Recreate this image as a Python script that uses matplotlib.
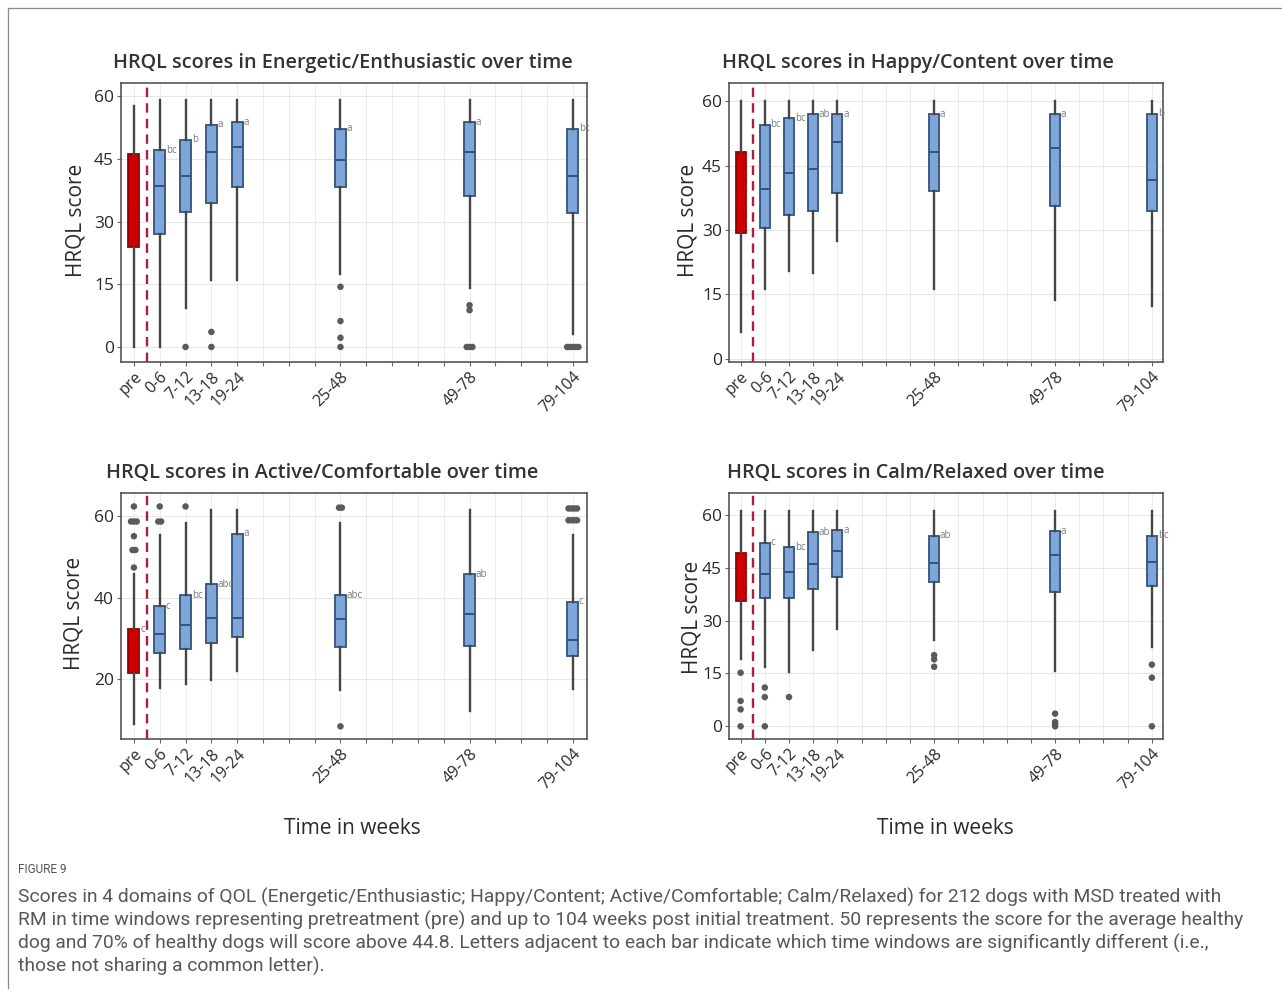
import matplotlib
matplotlib.use('Agg')
import matplotlib.pyplot as plt
from matplotlib.lines import Line2D
from collections import Counter

# ---------------- data ----------------
categories = ['pre', '0-6', '7-12', '13-18', '19-24', '25-48', '49-78', '79-104']
week_upper = [0, 6, 12, 18, 24, 48, 78, 104]   # upper week of each time window

titles = ['HRQL scores in Energetic/Enthusiastic over time',
          'HRQL scores in Happy/Content over time',
          'HRQL scores in Active/Comfortable over time',
          'HRQL scores in Calm/Relaxed over time']

# Energetic / Enthusiastic
ene_low = [0, 0, 9.4, 16, 16, 17.4, 14.2, 3.2]
ene_q1 = [23.9, 27.1, 32.2, 34.4, 38.3, 38.4, 36.2, 32.0]
ene_med = [35.0, 38.6, 41.0, 46.6, 47.8, 44.7, 46.6, 41.0]
ene_q3 = [46.2, 47.1, 49.6, 53.2, 53.8, 52.2, 53.8, 52.2]
ene_high = [57.8, 59.2, 59.2, 59.2, 59.2, 59.2, 59.2, 59.2]
ene_out = [[], [], [0], [3.6, 0], [], [14.4, 6.2, 2.2, 0], [10, 8.8, 0, 0, 0], [0, 0, 0, 0, 0]]
ene_letters = ['', 'bc', 'b', 'a', 'a', 'a', 'a', 'bc']

# Happy / Content
hap_low = [6.1, 16.3, 20.4, 19.9, 27.5, 16.3, 13.7, 12.3]
hap_q1 = [29.4, 30.4, 33.5, 34.5, 38.6, 39.0, 35.5, 34.4]
hap_med = [37.0, 39.6, 43.2, 44.3, 50.6, 48.1, 49.2, 41.6]
hap_q3 = [48.1, 54.5, 56.1, 57.0, 57.0, 57.0, 57.0, 57.1]
hap_high = [60, 60, 60, 60, 60, 60, 60, 60]
hap_out = [[], [], [], [], [], [], [], []]
hap_letters = ['', 'bc', 'bc', 'ab', 'a', 'a', 'a', 'b']

# Active / Comfortable
act_low = [8.9, 17.7, 18.9, 19.8, 22.0, 17.3, 12.1, 17.5]
act_q1 = [21.6, 26.3, 27.3, 28.9, 30.4, 27.9, 28.1, 25.8]
act_med = [26.0, 31.2, 33.3, 34.9, 34.9, 34.7, 35.9, 29.6]
act_q3 = [32.2, 37.9, 40.6, 43.3, 55.7, 40.6, 45.7, 39.0]
act_high = [45.7, 55.3, 58.4, 61.5, 61.5, 58.4, 61.5, 55.3]
act_out = [[62.4, 58.7, 58.7, 58.7, 55.1, 51.7, 51.7, 47.4],
           [62.4, 58.7, 58.7], [62.4], [], [],
           [62.1, 62.1, 8.4], [],
           [61.9, 61.9, 61.9, 61.9, 59.0, 59.0, 59.0, 59.0]]
act_letters = ['c', 'c', 'bc', 'abc', 'a', 'abc', 'ab', 'c']

# Calm / Relaxed
calm_low = [19.2, 16.9, 15.4, 21.6, 27.5, 24.6, 15.6, 22.4]
calm_q1 = [35.6, 36.3, 36.3, 38.9, 42.3, 41.0, 38.0, 39.9]
calm_med = [43.0, 43.1, 43.7, 46.1, 49.8, 46.3, 48.6, 46.7]
calm_q3 = [49.1, 52.1, 50.8, 55.1, 55.7, 54.0, 55.4, 54.0]
calm_high = [61.2, 61.2, 61.2, 61.2, 61.2, 61.2, 61.2, 61.2]
calm_out = [[15.2, 7.2, 4.8, 0], [11, 8.3, 0], [8.3], [], [],
            [20.2, 19.0, 16.9], [3.6, 1.2, 0.6, 0], [17.5, 13.8, 0]]
calm_letters = ['', 'c', 'bc', 'ab', 'a', 'ab', 'a', 'bc']

yticks_list = [[0, 15, 30, 45, 60], [0, 15, 30, 45, 60], [20, 40, 60], [0, 15, 30, 45, 60]]

caption_head = 'FIGURE 9'
caption_lines = [
    'Scores in 4 domains of QOL (Energetic/Enthusiastic; Happy/Content; Active/Comfortable; Calm/Relaxed) for 212 dogs with MSD treated with',
    'RM in time windows representing pretreatment (pre) and up to 104 weeks post initial treatment. 50 represents the score for the average healthy',
    'dog and 70% of healthy dogs will score above 44.8. Letters adjacent to each bar indicate which time windows are significantly different (i.e.,',
    'those not sharing a common letter).',
]

panels = [
    (ene_low, ene_q1, ene_med, ene_q3, ene_high, ene_out, ene_letters),
    (hap_low, hap_q1, hap_med, hap_q3, hap_high, hap_out, hap_letters),
    (act_low, act_q1, act_med, act_q3, act_high, act_out, act_letters),
    (calm_low, calm_q1, calm_med, calm_q3, calm_high, calm_out, calm_letters),
]

# ---------------- layout ----------------
W, H = 1282, 997
fig = plt.figure(figsize=(W / 100, H / 100), dpi=100)
plt.rcParams['font.family'] = ['Open Sans', 'DejaVu Sans']

def px_rect(l, t, r, b):
    return [l / W, 1 - b / H, (r - l) / W, (b - t) / H]

axes_px = [(121, 83, 587, 362), (729, 83, 1163, 362),
           (121, 493, 587, 739), (729, 493, 1163, 739)]
ylims = [(-3.6, 63.2), (-0.8, 64.3), (5.3, 65.7), (-3.6, 66.2)]
xlims = [(-0.5, 17.55), (-0.48, 17.46), (-0.5, 17.55), (-0.48, 17.46)]
title_pos = [(343, 63), (918, 63), (322, 473), (916, 473)]
ylabel_pos = [(76, 220), (688, 220), (74, 613), (692, 617)]
xlabel_pos = [None, None, (352, 828), (945, 828)]

positions = [round(w / 6) for w in week_upper]
n_slots = max(positions)

blue_fill = '#7fa6d8'
blue_edge = '#34527d'
red_fill = '#cc0000'
red_edge = '#990000'
whisk_col = '#454545'
text_col = '#2a2a2a'

for i, (low, q1, med, q3, high, outl, letters) in enumerate(panels):
    ax = fig.add_axes(px_rect(*axes_px[i]))
    stats = []
    for k in range(len(categories)):
        stats.append(dict(whislo=low[k], q1=q1[k], med=med[k], q3=q3[k],
                          whishi=high[k], fliers=[], label=categories[k]))
    bp = ax.bxp(stats, positions=positions, widths=0.42, patch_artist=True,
                showcaps=False, showfliers=False,
                boxprops=dict(facecolor=blue_fill, edgecolor=blue_edge, linewidth=1.3),
                medianprops=dict(color=blue_edge, linewidth=1.4),
                whiskerprops=dict(color=whisk_col, linewidth=1.7), zorder=3)
    bp['boxes'][0].set_facecolor(red_fill)
    bp['boxes'][0].set_edgecolor(red_edge)
    bp['medians'][0].set_color('#c20000')

    # outliers (duplicates placed side by side)
    for k, vals in enumerate(outl):
        cnt = Counter(vals)
        for v, c in cnt.items():
            for j in range(c):
                off = (j - (c - 1) / 2) * 0.11
                ax.scatter(positions[k] + off, v, s=22, color='#5a5a5a',
                           edgecolors='none', zorder=4)

    # significance letters
    for k, let in enumerate(letters):
        if let:
            ax.text(positions[k] + 0.24, q3[k], let, fontsize=7, color='#7a7a7a',
                    ha='left', va='center', zorder=5)

    ax.axvline(0.5, color='#b01c3c', linestyle=(0, (4, 2.6)), linewidth=1.7, zorder=2)

    ax.set_xlim(*xlims[i])
    ax.set_ylim(*ylims[i])
    ax.set_xticks(positions)
    ax.set_xticklabels(categories, rotation=45, ha='right', rotation_mode='anchor',
                       fontsize=11.5, color=text_col)
    ax.set_xticks([s for s in range(n_slots + 1) if s not in positions], minor=True)
    ax.set_yticks(yticks_list[i])
    ax.set_yticklabels([str(t) for t in yticks_list[i]], fontsize=12.5, color=text_col)
    ax.tick_params(axis='both', which='both', length=3, width=0.8, color='#666666', pad=2)
    ax.grid(True, axis='x', which='both', color='#ececec', linewidth=0.7, zorder=0)
    ax.grid(True, axis='y', which='major', color='#e6e6e6', linewidth=0.8, zorder=0)
    ax.set_axisbelow(True)
    for sp in ax.spines.values():
        sp.set_color('#555555')
        sp.set_linewidth(1.2)

    tx, ty = title_pos[i]
    fig.text(tx / W, 1 - ty / H, titles[i], fontsize=14.3, color='#333333',
             fontweight='semibold', ha='center', va='center')
    lx, ly = ylabel_pos[i]
    fig.text(lx / W, 1 - ly / H, 'HRQL score', fontsize=15, color=text_col,
             rotation=90, ha='center', va='center')
    if xlabel_pos[i]:
        xx, xy = xlabel_pos[i]
        fig.text(xx / W, 1 - xy / H, 'Time in weeks', fontsize=15, color=text_col,
                 ha='center', va='center')

# frame lines
fig.add_artist(Line2D([8 / W, 1], [1 - 8 / H, 1 - 8 / H], color='#8a8a8a', linewidth=0.9))
fig.add_artist(Line2D([8 / W, 8 / W], [1 - 8 / H, 1 - 988 / H], color='#8a8a8a', linewidth=0.9))

# caption
fig.text(18 / W, 1 - 869 / H, caption_head, fontsize=8.5, color='#555555',
         family=['Roboto', 'DejaVu Sans'], ha='left', va='center')
for j, line in enumerate(caption_lines):
    fig.text(18 / W, 1 - (897 + 23.3 * j) / H, line, fontsize=13.9, color='#575757',
             family=['Roboto', 'DejaVu Sans'], ha='left', va='center')

fig.savefig('out.png', dpi=100)
